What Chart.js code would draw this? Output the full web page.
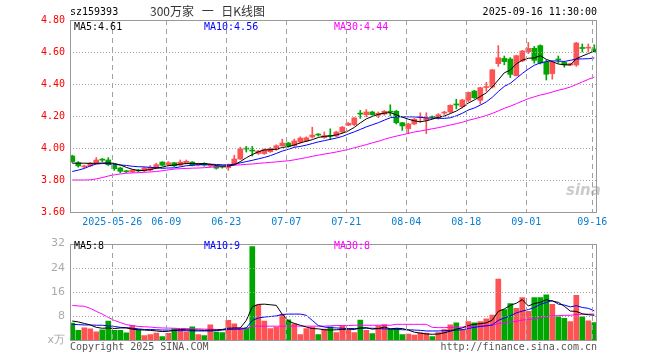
<!DOCTYPE html>
<html>
<head>
<meta charset="utf-8">
<script src="https://cdn.jsdelivr.net/npm/chart.js@4.4.1/dist/chart.umd.min.js"></script>
<style>
body { margin: 0; background: #fff; width: 660px; height: 360px; position: relative; overflow: hidden; }
canvas { position: absolute; left: 0; }
#k { top: 0; }
#v { top: 232px; }
.t { position: absolute; font: 10px "DejaVu Sans Mono", monospace; line-height: 12px; white-space: pre; }
</style>
</head>
<body>
<canvas id="k" width="660" height="232"></canvas>
<canvas id="v" width="660" height="128"></canvas>

<div class="t" style="left:70px;top:6px">sz159393</div>
<div class="t" style="left:150px;top:3px;font:12px 'Noto Sans CJK SC';line-height:16px;color:#333;word-spacing:5px">300万家 一 日K线图</div>
<div class="t" style="right:63px;top:6px">2025-09-16 11:30:00</div>

<div class="t" style="left:74px;top:21px">MA5:4.61</div>
<div class="t" style="left:204px;top:21px;color:#0000ff">MA10:4.56</div>
<div class="t" style="left:334px;top:21px;color:#ff00ff">MA30:4.44</div>

<div class="t" style="left:74px;top:240px">MA5:8</div>
<div class="t" style="left:204px;top:240px;color:#0000ff">MA10:9</div>
<div class="t" style="left:334px;top:240px;color:#ff00ff">MA30:8</div>

<div class="t" style="left:566px;top:181px;font:italic bold 15px 'DejaVu Sans';color:rgba(160,160,160,0.55)">sina</div>

<div class="t" style="left:70px;top:341px;color:#555">Copyright 2025 SINA.COM</div>
<div class="t" style="right:63px;top:341px;color:#555">http://finance.sina.com.cn</div>

<script>
// trading days shown
const dates = [
  '2025-05-15','2025-05-16','2025-05-19','2025-05-20','2025-05-21','2025-05-22','2025-05-23','2025-05-26','2025-05-27','2025-05-28',
  '2025-05-29','2025-05-30','2025-06-03','2025-06-04','2025-06-05','2025-06-06','2025-06-09','2025-06-10','2025-06-11','2025-06-12',
  '2025-06-13','2025-06-16','2025-06-17','2025-06-18','2025-06-19','2025-06-20','2025-06-23','2025-06-24','2025-06-25','2025-06-26',
  '2025-06-27','2025-06-30','2025-07-01','2025-07-02','2025-07-03','2025-07-04','2025-07-07','2025-07-08','2025-07-09','2025-07-10',
  '2025-07-11','2025-07-14','2025-07-15','2025-07-16','2025-07-17','2025-07-18','2025-07-21','2025-07-22','2025-07-23','2025-07-24',
  '2025-07-25','2025-07-28','2025-07-29','2025-07-30','2025-07-31','2025-08-01','2025-08-04','2025-08-05','2025-08-06','2025-08-07',
  '2025-08-08','2025-08-11','2025-08-12','2025-08-13','2025-08-14','2025-08-15','2025-08-18','2025-08-19','2025-08-20','2025-08-21',
  '2025-08-22','2025-08-25','2025-08-26','2025-08-27','2025-08-28','2025-08-29','2025-09-01','2025-09-02','2025-09-03','2025-09-04',
  '2025-09-05','2025-09-08','2025-09-09','2025-09-10','2025-09-11','2025-09-12','2025-09-15','2025-09-16'
];
const dateTicks = ['2025-05-26','2025-06-09','2025-06-23','2025-07-07','2025-07-21','2025-08-04','2025-08-18','2025-09-01','2025-09-16'];

const open = [
  3.950,3.908,3.882,3.888,3.905,3.927,3.925,3.892,3.875,3.853,
  3.850,3.860,3.858,3.862,3.875,3.912,3.892,3.908,3.892,3.905,
  3.912,3.892,3.904,3.887,3.886,3.883,3.877,3.898,3.931,3.996,
  3.985,3.966,3.965,3.977,3.990,4.014,4.031,4.014,4.037,4.044,
  4.069,4.083,4.065,4.075,4.075,4.100,4.142,4.146,4.215,4.208,
  4.225,4.205,4.212,4.227,4.230,4.158,4.121,4.150,4.190,4.175,
  4.195,4.187,4.218,4.225,4.272,4.258,4.298,4.356,4.298,4.378,
  4.381,4.527,4.560,4.556,4.452,4.544,4.602,4.623,4.640,4.536,
  4.465,4.553,4.535,4.519,4.519,4.625,4.624,4.619
];
const high = [
  3.955,3.915,3.893,3.910,3.940,3.935,3.940,3.900,3.880,3.860,
  3.866,3.866,3.880,3.890,3.905,3.915,3.915,3.910,3.925,3.925,
  3.915,3.905,3.908,3.897,3.890,3.886,3.900,3.955,4.005,4.010,
  4.010,3.985,3.995,4.003,4.020,4.055,4.035,4.056,4.070,4.070,
  4.130,4.090,4.100,4.120,4.105,4.135,4.160,4.190,4.235,4.240,
  4.230,4.225,4.235,4.270,4.235,4.160,4.155,4.185,4.220,4.220,
  4.200,4.215,4.230,4.270,4.305,4.305,4.350,4.360,4.380,4.410,
  4.490,4.640,4.575,4.565,4.580,4.610,4.660,4.635,4.645,4.550,
  4.540,4.575,4.540,4.530,4.660,4.650,4.650,4.645
];
const low = [
  3.910,3.880,3.876,3.884,3.900,3.915,3.890,3.860,3.845,3.846,
  3.846,3.850,3.852,3.856,3.870,3.888,3.888,3.884,3.888,3.900,
  3.888,3.888,3.886,3.880,3.868,3.874,3.860,3.895,3.928,3.975,
  3.950,3.960,3.960,3.972,3.985,4.010,4.005,4.010,4.030,4.040,
  4.062,4.075,4.060,4.052,4.070,4.095,4.140,4.140,4.185,4.195,
  4.205,4.190,4.205,4.200,4.150,4.110,4.090,4.145,4.160,4.090,
  4.185,4.180,4.210,4.220,4.245,4.250,4.290,4.310,4.275,4.355,
  4.375,4.510,4.520,4.440,4.450,4.540,4.590,4.530,4.525,4.425,
  4.430,4.530,4.505,4.515,4.510,4.600,4.600,4.600
];
const close = [
  3.915,3.888,3.886,3.905,3.925,3.924,3.896,3.870,3.854,3.851,
  3.862,3.857,3.875,3.880,3.896,3.892,3.908,3.888,3.912,3.917,
  3.892,3.900,3.892,3.891,3.874,3.880,3.898,3.931,3.994,3.993,
  3.981,3.981,3.990,3.998,4.014,4.031,4.010,4.044,4.062,4.064,
  4.081,4.081,4.077,4.073,4.100,4.130,4.154,4.188,4.212,4.225,
  4.208,4.217,4.229,4.224,4.158,4.138,4.150,4.180,4.193,4.187,
  4.192,4.208,4.221,4.267,4.269,4.300,4.348,4.314,4.377,4.381,
  4.489,4.564,4.540,4.460,4.577,4.606,4.623,4.548,4.531,4.461,
  4.536,4.550,4.520,4.527,4.656,4.622,4.627,4.602
];
const ma5 = [
  3.905,3.905,3.905,3.904,3.904,3.906,3.907,3.904,3.894,3.879,
  3.867,3.859,3.860,3.865,3.874,3.880,3.890,3.893,3.899,3.903,
  3.903,3.902,3.903,3.898,3.890,3.887,3.887,3.895,3.915,3.939,
  3.959,3.976,3.988,3.989,3.993,4.003,4.009,4.019,4.032,4.042,
  4.052,4.066,4.073,4.075,4.082,4.092,4.107,4.129,4.157,4.182,
  4.197,4.210,4.218,4.221,4.207,4.193,4.180,4.170,4.164,4.170,
  4.180,4.192,4.200,4.215,4.231,4.253,4.281,4.300,4.322,4.344,
  4.382,4.425,4.470,4.487,4.526,4.549,4.561,4.563,4.577,4.554,
  4.540,4.525,4.520,4.519,4.558,4.575,4.590,4.607
];
const ma10 = [
  3.853,3.862,3.872,3.888,3.900,3.903,3.902,3.898,3.894,3.891,
  3.886,3.883,3.882,3.879,3.877,3.873,3.875,3.876,3.882,3.889,
  3.892,3.896,3.898,3.899,3.897,3.895,3.894,3.899,3.907,3.915,
  3.923,3.932,3.941,3.952,3.966,3.981,3.992,4.004,4.010,4.018,
  4.028,4.038,4.046,4.054,4.062,4.072,4.087,4.101,4.116,4.132,
  4.145,4.158,4.174,4.189,4.195,4.195,4.195,4.194,4.192,4.188,
  4.187,4.186,4.185,4.189,4.201,4.217,4.237,4.250,4.268,4.288,
  4.317,4.353,4.385,4.404,4.435,4.466,4.493,4.517,4.532,4.540,
  4.545,4.543,4.541,4.548,4.556,4.557,4.558,4.563
];
const ma30 = [
  3.800,3.800,3.800,3.801,3.807,3.815,3.825,3.832,3.838,3.842,
  3.844,3.846,3.848,3.850,3.853,3.858,3.863,3.868,3.871,3.872,
  3.874,3.875,3.877,3.880,3.883,3.886,3.888,3.892,3.895,3.898,
  3.900,3.904,3.907,3.910,3.913,3.917,3.920,3.926,3.933,3.940,
  3.948,3.955,3.962,3.968,3.975,3.983,3.991,4.001,4.011,4.021,
  4.032,4.042,4.054,4.065,4.074,4.083,4.091,4.100,4.106,4.113,
  4.120,4.127,4.135,4.144,4.152,4.161,4.173,4.182,4.192,4.203,
  4.216,4.232,4.248,4.261,4.277,4.293,4.308,4.320,4.331,4.339,
  4.350,4.361,4.370,4.381,4.397,4.413,4.429,4.443
];

// volume, 万
const vol = [
  5.6,3.2,4.0,3.7,2.7,3.4,6.3,3.2,3.2,2.4,
  4.9,3.4,1.5,1.8,2.3,1.1,2.2,3.8,3.4,2.7,
  4.4,1.8,1.5,5.0,2.6,2.5,6.5,5.4,4.0,4.0,
  31.0,11.7,6.3,3.8,4.3,8.4,6.7,5.4,1.8,3.8,
  4.3,1.8,3.6,4.4,2.5,4.7,3.5,2.5,6.6,3.2,
  2.1,4.7,5.1,3.6,3.9,1.8,2.0,1.6,2.4,2.3,
  1.1,2.5,3.5,5.0,5.7,3.5,6.1,5.7,6.1,7.0,
  8.3,20.2,10.1,12.1,10.5,14.1,9.5,14.1,14.1,15.0,
  11.8,7.7,7.2,6.1,14.8,7.7,6.4,5.8
];
const vma5 = [
  6.3,6.0,5.5,5.0,4.2,3.9,4.0,3.8,4.0,4.0,
  3.6,3.4,3.3,3.2,3.0,2.8,2.9,3.2,3.5,3.4,
  3.3,3.3,3.2,3.3,3.3,3.5,3.9,4.0,4.0,6.5,
  11.0,11.8,11.9,11.7,11.5,8.5,6.3,5.5,4.9,4.3,
  3.8,3.7,3.4,3.3,3.4,3.5,3.6,3.5,4.0,4.1,
  3.6,3.8,4.3,3.7,3.9,3.8,3.3,2.6,2.3,2.0,
  1.9,2.0,2.4,2.9,3.6,4.0,4.8,5.2,5.4,5.7,
  6.6,9.5,10.3,11.5,12.2,13.4,11.3,12.1,12.5,13.4,
  12.9,12.5,11.2,9.6,9.5,8.7,8.4,8.2
];
const vma10 = [
  5.2,5.1,5.0,5.0,4.9,4.9,4.7,4.5,4.2,4.1,
  3.9,3.7,3.5,3.5,3.4,3.3,3.3,3.2,3.1,3.1,
  3.0,3.0,3.0,3.0,3.1,3.3,3.5,3.6,3.6,4.0,
  6.5,7.3,7.6,7.8,8.0,8.5,8.6,8.6,8.6,8.2,
  6.5,4.8,4.3,4.1,4.0,3.9,3.8,3.8,3.9,3.9,
  3.9,3.8,3.7,3.6,3.5,3.4,3.4,3.3,3.2,3.0,
  3.0,3.0,3.1,3.2,3.3,3.4,3.8,4.2,4.5,4.7,
  5.0,6.5,7.3,8.0,9.0,9.6,10.1,10.8,11.8,12.5,
  13.1,11.9,11.6,11.0,11.4,10.8,10.5,9.7
];
const vma30 = [
  11.5,11.3,11.2,10.5,9.5,8.6,7.5,6.5,5.8,5.1,
  4.8,4.5,4.4,4.3,4.1,4.0,3.95,3.9,3.8,3.8,
  3.7,3.7,3.6,3.6,3.5,3.5,3.5,3.6,3.7,3.7,
  4.6,4.6,4.6,4.6,4.6,4.6,4.6,4.6,4.6,4.6,
  4.6,4.6,4.6,4.7,4.8,4.8,4.8,4.9,4.9,4.9,
  4.9,4.9,4.9,4.9,5.2,5.2,5.2,5.2,5.2,5.2,
  4.2,4.1,4.1,4.2,4.2,4.3,4.4,4.5,4.6,4.7,
  4.9,5.5,5.7,6.0,6.2,6.6,6.8,7.1,7.4,7.8,
  8.0,8.1,8.2,8.2,8.5,8.5,8.6,8.6
];

const priceTicks = [3.6, 3.8, 4.0, 4.2, 4.4, 4.6, 4.8];
const volTicks = [0, 8, 16, 24, 32];

const RED = '#ff5252', GREEN = '#00a600';
const MONO = { family: 'DejaVu Sans Mono', size: 10 };
const up = open.map((o, i) => close[i] >= o);
const colors = up.map(u => u ? RED : GREEN);
const tickIdx = dateTicks.map(d => dates.indexOf(d));

// dotted horizontal / dashed vertical grid + grey frame
function drawGrid(chart, yTicks) {
  const ctx = chart.ctx, a = chart.chartArea, sx = chart.scales.x, sy = chart.scales.y;
  const y0 = Math.round(a.top), y1 = Math.round(a.bottom);
  ctx.save();
  ctx.fillStyle = '#a0a0a0';
  yTicks.forEach(v => {
    const py = Math.round(sy.getPixelForValue(v));
    for (let px = Math.round(a.left); px < a.right; px += 3) ctx.fillRect(px, py, 1, 1);
  });
  const span = sx.max - sx.min, w = sx.right - sx.left;
  tickIdx.forEach(i => {
    const px = Math.round(sx.left + (i - 1 / 3 - sx.min) / span * w);
    for (let yy = y0; yy < y1; yy += 9) ctx.fillRect(px, yy, 1, Math.min(5, y1 - yy));
  });
  ctx.strokeStyle = '#999';
  ctx.lineWidth = 1;
  ctx.strokeRect(Math.round(a.left) + 0.5, y0 + 0.5, Math.round(a.right - a.left) - 1, y1 - y0);
  ctx.restore();
}
const gridFrame = {
  id: 'gridFrame',
  afterDraw(chart) {
    drawGrid(chart, chart.config.options.scales.y.max > 10 ? volTicks : priceTicks);
  }
};

function xScale(showLabels) {
  return {
    type: 'linear', min: -0.38, max: 87.45, offset: false,
    afterBuildTicks: s => { s.ticks = tickIdx.map(i => ({ value: i - 1 / 3 })); },
    afterFit: s => { s.height = 20; },
    ticks: {
      autoSkip: false, maxRotation: 0, padding: 4, color: '#0a7fd0', font: MONO,
      callback: (v, i) => showLabels ? (i === 0 ? dateTicks[i] : dateTicks[i].slice(5)) : ''
    },
    grid: { display: false, drawTicks: false, offset: false },
    border: { display: false }
  };
}

function line(data, color) {
  return { type: 'line', data: data.map((v, i) => ({ x: i, y: v })), borderColor: color, borderWidth: 1,
    pointRadius: 0, tension: 0, order: 1 };
}

new Chart(document.getElementById('k'), {
  data: {
    datasets: [
      { type: 'bar', data: low.map((l, i) => ({ x: i, y: [l, high[i]] })), backgroundColor: colors,
        barThickness: 1, grouped: false, order: 3 },
      { type: 'bar', data: open.map((o, i) => ({ x: i, y: [Math.min(o, close[i]), Math.max(o, close[i])] })),
        backgroundColor: colors, barThickness: 5, minBarLength: 1, grouped: false, order: 2 },
      line(ma5, '#000000'),
      line(ma10, '#0000ff'),
      line(ma30, '#ff00ff')
    ]
  },
  options: {
    responsive: false, animation: false,
    layout: { padding: { left: 0, right: 63, top: 20, bottom: 0 } },
    plugins: { legend: { display: false }, tooltip: { enabled: false } },
    scales: {
      x: xScale(true),
      y: {
        min: 3.6, max: 4.8,
        afterBuildTicks: s => { s.ticks = priceTicks.map(v => ({ value: v })); },
        afterFit: s => { s.width = 70; },
        ticks: { color: '#ff0000', font: MONO, padding: 5, callback: v => v.toFixed(2) },
        grid: { display: false, drawTicks: false },
        border: { display: false }
      }
    }
  },
  plugins: [gridFrame]
});

new Chart(document.getElementById('v'), {
  data: {
    datasets: [
      { type: 'bar', data: vol.map((v, i) => ({ x: i, y: v })), backgroundColor: colors,
        barThickness: 5, grouped: false, order: 2 },
      line(vma5, '#000000'),
      line(vma10, '#0000ff'),
      line(vma30, '#ff00ff')
    ]
  },
  options: {
    responsive: false, animation: false,
    layout: { padding: { left: 0, right: 63, top: 8, bottom: 0 } },
    plugins: { legend: { display: false }, tooltip: { enabled: false } },
    scales: {
      x: xScale(false),
      y: {
        min: 0, max: 32,
        afterBuildTicks: s => { s.ticks = volTicks.map(v => ({ value: v })); },
        afterFit: s => { s.width = 70; },
        ticks: { color: '#aaa', font: { family: 'DejaVu Sans', size: 11 }, padding: 5,
          callback: v => v === 0 ? 'x万' : v },
        grid: { display: false, drawTicks: false },
        border: { display: false }
      }
    }
  },
  plugins: [gridFrame]
});
</script>
</body>
</html>
